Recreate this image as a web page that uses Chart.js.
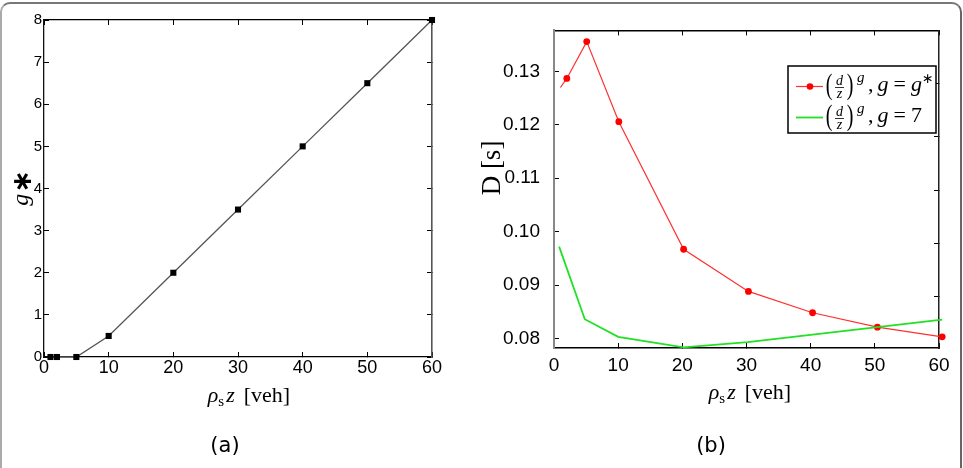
<!DOCTYPE html>
<html>
<head>
<meta charset="utf-8">
<script src="https://cdn.jsdelivr.net/npm/chart.js@4/dist/chart.umd.min.js"></script>
<style>
  html, body { margin: 0; padding: 0; background: #fff; overflow: hidden; }
  #wrap { position: relative; width: 963px; height: 468px; overflow: hidden; }
  #frame { position: absolute; left: 0; top: 2px; width: 958px; height: 520px; border: 2px solid; border-color: #777 #666 #888 #aaa; border-radius: 10px; }
  canvas { position: absolute; top: 0; }
</style>
</head>
<body>
<div id="wrap">
  <div id="frame"></div>
  <canvas id="chartA" width="480" height="468" style="left:0"></canvas>
  <canvas id="chartB" width="483" height="468" style="left:480px"></canvas>
</div>
<script>
// (a) optimal exponent g* against rho_s z
const rhoZ = [1, 2, 5, 10, 20, 30, 40, 50, 60];
const gStar = [0, 0, 0, 0.5, 2, 3.5, 5, 6.5, 8];

// (b) delay D for g = g* (red) and g = 7 (green)
const rhoZRed = [1, 2, 5.1, 10.1, 20.2, 30.3, 40.3, 50.4, 60.5];
const delayOpt = [0.127, 0.1287, 0.1356, 0.1206, 0.0967, 0.0888, 0.0848, 0.0821, 0.0803];
const rhoZGreen = [0.8, 4.8, 10, 20.2, 30.2, 40.3, 50.4, 60.5];
const delayG7 = [0.0972, 0.0836, 0.0803, 0.0783, 0.0793, 0.0807, 0.0821, 0.0835];

// tick positions
const xTicks = [0, 10, 20, 30, 40, 50, 60];
const gTicks = [0, 1, 2, 3, 4, 5, 6, 7, 8];
const dTicks = [0.08, 0.09, 0.10, 0.11, 0.12, 0.13];
const dTicksRight = [0.0878, 0.0978, 0.1078, 0.1178, 0.1278];

const SANS = '"Liberation Sans", Arial, sans-serif';
const SERIF = '"Liberation Serif", "DejaVu Serif", serif';
Chart.defaults.color = '#000';

const toTicks = arr => s => { s.ticks = arr.map(v => ({ value: v })); };
const inward = color => ({ drawOnChartArea: false, drawTicks: true, tickLength: -5, color: color, lineWidth: 1 });

// draw a row of text pieces centred on cx
function drawRuns(ctx, runs, cx, baseY) {
  let w = 0;
  runs.forEach(r => { ctx.font = r.font; r.w = ctx.measureText(r.t).width; w += r.w + (r.gap || 0); });
  let x = cx - w / 2;
  ctx.textAlign = 'left';
  ctx.textBaseline = 'alphabetic';
  runs.forEach(r => { ctx.font = r.font; ctx.fillText(r.t, x, baseY + (r.dy || 0)); x += r.w + (r.gap || 0); });
}

function xTitle(ctx, cx, y) {
  drawRuns(ctx, [
    { t: 'ρ', font: 'italic 22px ' + SERIF },
    { t: 's', font: '15px ' + SERIF, dy: 4, gap: 2 },
    { t: 'z', font: 'italic 22px ' + SERIF, gap: 9 },
    { t: '[veh]', font: '22px ' + SERIF }
  ], cx, y);
}

function panelLabel(ctx, text, cx, cy) {
  ctx.font = '21px "DejaVu Sans", sans-serif';
  ctx.textAlign = 'center';
  ctx.textBaseline = 'middle';
  ctx.fillText(text, cx, cy);
}

const textA = {
  id: 'textA',
  afterDraw(chart) {
    const ctx = chart.ctx;
    ctx.save();
    ctx.fillStyle = '#000';
    xTitle(ctx, 249, 402);
    panelLabel(ctx, '(a)', 225, 447);
    ctx.translate(28, 188);
    ctx.rotate(-Math.PI / 2);
    drawRuns(ctx, [
      { t: 'g', font: 'italic 24px ' + SERIF, gap: 1 },
      { t: '∗', font: 'bold 27px "DejaVu Sans", sans-serif', dy: 3 }
    ], 0, 0);
    ctx.restore();
  }
};

function legendRow(ctx, cy, color, dot, tail) {
  ctx.strokeStyle = color;
  ctx.lineWidth = color === '#22e022' ? 1.8 : 1.2;
  ctx.beginPath(); ctx.moveTo(316, cy); ctx.lineTo(343, cy); ctx.stroke();
  if (dot) { ctx.fillStyle = '#ff0000'; ctx.beginPath(); ctx.arc(330, cy, 3.3, 0, Math.PI * 2); ctx.fill(); }
  ctx.fillStyle = '#000';
  ctx.textBaseline = 'middle';
  ctx.textAlign = 'center';
  // big parentheses
  ctx.save();
  ctx.font = '20px ' + SERIF;
  ctx.translate(0, cy);
  ctx.scale(1, 1.45);
  ctx.fillText('(', 349, 0);
  ctx.fillText(')', 370, 0);
  ctx.restore();
  // fraction d / z
  ctx.textBaseline = 'alphabetic';
  ctx.font = 'italic 14px ' + SERIF;
  ctx.fillText('d', 359.5, cy - 2);
  ctx.fillText('z', 359.5, cy + 11);
  ctx.lineWidth = 0.8;
  ctx.strokeStyle = '#000';
  ctx.beginPath(); ctx.moveTo(355, cy + 1); ctx.lineTo(364, cy + 1); ctx.stroke();
  ctx.textAlign = 'left';
  ctx.font = 'italic 15px ' + SERIF;
  ctx.fillText('g', 377, cy - 5);
  let x = 388;
  tail.forEach(r => { ctx.font = r.font; ctx.fillText(r.t, x, cy + 4 + (r.dy || 0)); x += ctx.measureText(r.t).width + (r.gap || 0); });
}

const textB = {
  id: 'textB',
  afterDraw(chart) {
    const ctx = chart.ctx;
    ctx.save();
    ctx.fillStyle = '#000';
    xTitle(ctx, 270, 399);
    panelLabel(ctx, '(b)', 231, 447);
    // legend box
    ctx.fillStyle = '#fff';
    ctx.fillRect(308, 66, 148, 67);
    ctx.strokeStyle = '#000';
    ctx.lineWidth = 1.5;
    ctx.strokeRect(308, 66, 148, 67);
    const roman = '22px ' + SERIF, ital = 'italic 22px ' + SERIF;
    legendRow(ctx, 86.5, '#ff3030', true, [
      { t: ',', font: roman, gap: 4 }, { t: 'g', font: ital, gap: 5 }, { t: '=', font: roman, gap: 5 },
      { t: 'g', font: ital }, { t: '∗', font: '14px "DejaVu Sans", sans-serif', dy: -8 }
    ]);
    legendRow(ctx, 117.5, '#22e022', false, [
      { t: ',', font: roman, gap: 4 }, { t: 'g', font: ital, gap: 5 }, { t: '=', font: roman, gap: 5 },
      { t: '7', font: roman }
    ]);
    // y title
    ctx.fillStyle = '#000';
    ctx.translate(20, 168);
    ctx.rotate(-Math.PI / 2);
    drawRuns(ctx, [{ t: 'D [s]', font: '27px ' + SERIF }], 0, 0);
    ctx.restore();
  }
};

new Chart(document.getElementById('chartA'), {
  type: 'line',
  data: {
    datasets: [{
      data: rhoZ.map((x, i) => ({ x: x, y: gStar[i] })),
      borderColor: '#555',
      borderWidth: 1.3,
      pointStyle: 'rect',
      pointRadius: 4.3,
      pointBackgroundColor: '#000',
      pointBorderColor: '#000',
      pointBorderWidth: 0,
      tension: 0,
      clip: false
    }]
  },
  options: {
    responsive: false,
    animation: false,
    events: [],
    layout: { padding: 0 },
    plugins: { legend: { display: false }, tooltip: { enabled: false } },
    scales: {
      x: {
        type: 'linear', position: 'bottom', min: 0, max: 60,
        afterBuildTicks: toTicks(xTicks), afterFit: s => { s.height = 111; },
        ticks: { font: { family: SANS, size: 18 }, padding: 5, maxRotation: 0, autoSkip: false },
        grid: inward('#000'), border: { color: '#000', width: 1.3 }
      },
      x2: {
        type: 'linear', position: 'top', min: 0, max: 60,
        afterBuildTicks: toTicks(xTicks), afterFit: s => { s.height = 20; },
        ticks: { display: false },
        grid: inward('#000'), border: { color: '#000', width: 1.3 }
      },
      y: {
        type: 'linear', position: 'left', min: 0, max: 8,
        afterBuildTicks: toTicks(gTicks), afterFit: s => { s.width = 44; },
        ticks: { font: { family: SANS, size: 15 }, padding: 7, autoSkip: false },
        grid: inward('#000'), border: { color: '#111', width: 1.3 }
      },
      y2: {
        type: 'linear', position: 'right', min: 0, max: 8,
        afterBuildTicks: toTicks(gTicks), afterFit: s => { s.width = 48; },
        ticks: { display: false },
        grid: inward('#000'), border: { color: '#555', width: 1.6 }
      }
    }
  },
  plugins: [textA]
});

new Chart(document.getElementById('chartB'), {
  type: 'line',
  data: {
    datasets: [{
      data: rhoZRed.map((x, i) => ({ x: x, y: delayOpt[i] })),
      borderColor: '#ff3030',
      borderWidth: 1.2,
      pointRadius: c => (c.dataIndex === 0 ? 0 : 3.4),
      pointBackgroundColor: '#ff0000',
      pointBorderWidth: 0,
      tension: 0,
      clip: false,
      order: 1
    }, {
      data: rhoZGreen.map((x, i) => ({ x: x, y: delayG7[i] })),
      borderColor: '#22e022',
      borderWidth: 1.8,
      pointRadius: 0,
      tension: 0,
      clip: false,
      order: 0
    }]
  },
  options: {
    responsive: false,
    animation: false,
    events: [],
    layout: { padding: 0 },
    plugins: { legend: { display: false }, tooltip: { enabled: false } },
    scales: {
      x: {
        type: 'linear', position: 'bottom', min: 0, max: 60,
        afterBuildTicks: toTicks(xTicks), afterFit: s => { s.height = 120; },
        ticks: { font: { family: SANS, size: 19 }, padding: 11, maxRotation: 0, autoSkip: false },
        grid: inward('#000'), border: { color: '#000', width: 1.5 }
      },
      x2: {
        type: 'linear', position: 'top', min: 0, max: 60,
        afterBuildTicks: toTicks(xTicks), afterFit: s => { s.height = 18; },
        ticks: { display: false },
        grid: inward('#000'), border: { color: '#000', width: 1.5 }
      },
      y: {
        type: 'linear', position: 'left', min: 0.0782, max: 0.1377,
        afterBuildTicks: toTicks(dTicks), afterFit: s => { s.width = 74; },
        ticks: { font: { family: SANS, size: 19 }, padding: 19, autoSkip: false, callback: v => v.toFixed(2) },
        grid: inward('#000'), border: { color: '#888', width: 2 }
      },
      y2: {
        type: 'linear', position: 'right', min: 0.0782, max: 0.1377,
        afterBuildTicks: toTicks(dTicksRight), afterFit: s => { s.width = 24; },
        ticks: { display: false },
        grid: inward('#000'), border: { color: '#222', width: 1.5 }
      }
    }
  },
  plugins: [textB]
});
</script>
</body>
</html>
